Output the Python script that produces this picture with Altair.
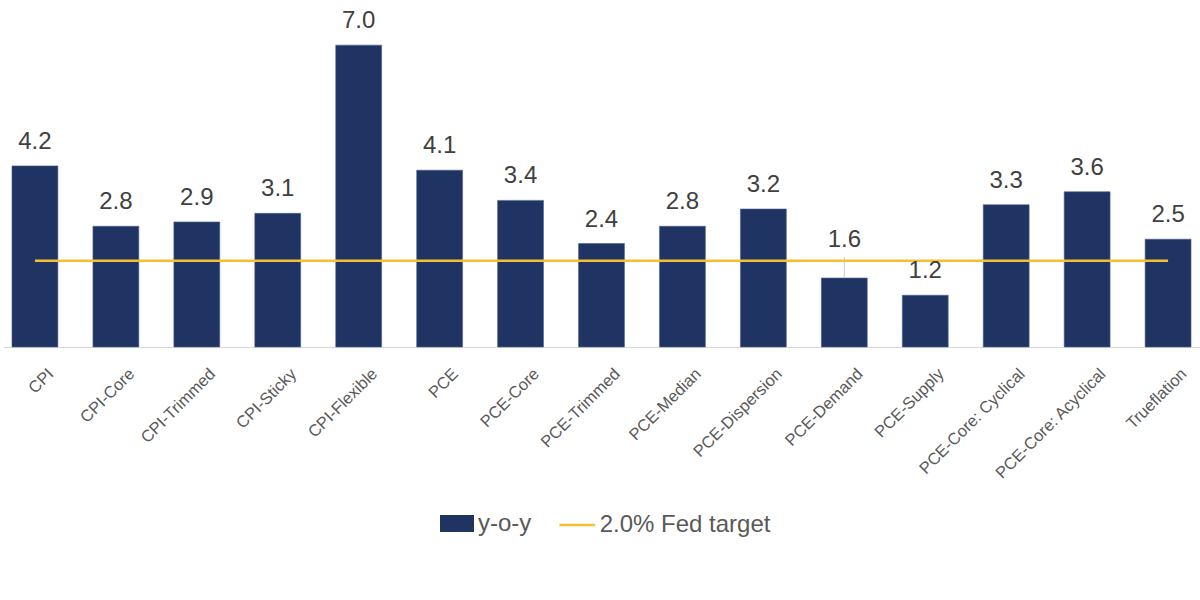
import altair as alt
import pandas as pd

# Year-over-year inflation by measure (%)
categories = [
    "CPI", "CPI-Core", "CPI-Trimmed", "CPI-Sticky", "CPI-Flexible",
    "PCE", "PCE-Core", "PCE-Trimmed", "PCE-Median", "PCE-Dispersion",
    "PCE-Demand", "PCE-Supply", "PCE-Core: Cyclical", "PCE-Core: Acyclical",
    "Trueflation",
]
yoy = [4.2, 2.8, 2.9, 3.1, 7.0, 4.1, 3.4, 2.4, 2.8, 3.2, 1.6, 1.2, 3.3, 3.6, 2.5]
fed_target = 2.0

bar_label = "y-o-y"
target_label = "2.0% Fed target"
# labels that sit above the target line, joined to their bar by a leader
lifted = ["PCE-Demand"]

NAVY = "#1F3462"
GOLD = "#F5BF2F"
FONT = "Liberation Sans"

df = pd.DataFrame({
    "category": categories,
    "value": yoy,
    "target": [fed_target] * len(categories),
    "series": bar_label,
    "target_series": target_label,
})

x_enc = alt.X(
    "category:N",
    sort=categories,
    scale=alt.Scale(paddingInner=0.433, paddingOuter=0.111, range=[3, 1200]),
    axis=alt.Axis(
        title=None, labelAngle=-45, labelAlign="right", labelBaseline="middle",
        labelFont=FONT, labelFontSize=16.5, labelColor="#595959",
        labelPadding=24, labelOffset=16, ticks=False, grid=False,
        domainColor="#D9D9D9", domainWidth=1, labelOverlap=False,
        labelBound=False, labelFlush=False, labelLimit=400,
    ),
)
y_scale = alt.Scale(domain=[0, 8], nice=False, zero=True)
y_enc = alt.Y("value:Q", scale=y_scale, axis=None)

base = alt.Chart(df)

bars = base.mark_bar(stroke="#4E6290", strokeWidth=0.6).encode(
    x=x_enc,
    y=y_enc,
    fill=alt.Fill(
        "series:N",
        scale=alt.Scale(domain=[bar_label], range=[NAVY]),
        legend=alt.Legend(
            title=None, orient="none", legendX=440, legendY=504.5,
            symbolType="M-1,-0.5H1V0.5H-1Z", symbolSize=1156,
            symbolStrokeWidth=0, labelFont=FONT, labelFontSize=24,
            labelColor="#595959", labelOffset=4, labelLimit=400,
        ),
    ),
)

target_line = base.mark_line(strokeWidth=2.5).encode(
    x=alt.X("category:N", sort=categories),
    y=alt.Y("target:Q", scale=y_scale, axis=None),
    stroke=alt.Stroke(
        "target_series:N",
        scale=alt.Scale(domain=[target_label], range=[GOLD]),
        legend=alt.Legend(
            title=None, orient="none", legendX=557.7, legendY=503.5,
            symbolType="stroke", symbolSize=1267, symbolStrokeWidth=2.5,
            labelFont=FONT, labelFontSize=24, labelColor="#595959",
            labelOffset=3, labelLimit=400,
        ),
    ),
)

is_lifted = alt.FieldOneOfPredicate(field="category", oneOf=lifted)

labels = base.transform_filter(~is_lifted).mark_text(
    font=FONT, fontSize=24, color="#404040", baseline="alphabetic", dy=-17,
).encode(
    x=alt.X("category:N", sort=categories),
    y=alt.Y("value:Q", scale=y_scale, axis=None),
    text=alt.Text("value:Q", format=".1f"),
)

lifted_labels = base.transform_filter(is_lifted).mark_text(
    font=FONT, fontSize=24, color="#404040", baseline="alphabetic", dy=-31,
).encode(
    x=alt.X("category:N", sort=categories),
    y=alt.Y("value:Q", scale=y_scale, axis=None),
    text=alt.Text("value:Q", format=".1f"),
)

leaders = base.transform_filter(is_lifted).mark_rule(
    color="#C8C8C8", strokeWidth=1, y2Offset=-21,
).encode(
    x=alt.X("category:N", sort=categories),
    y=alt.Y("value:Q", scale=y_scale, axis=None),
    y2="value:Q",
)

chart = (
    alt.layer(bars, leaders, target_line, labels, lifted_labels)
    .resolve_legend(fill="independent", stroke="independent")
    .properties(
        width=1200,
        height=345,
        autosize=alt.AutoSizeParams(type="none"),
        padding={"left": 0, "top": 2, "right": 0, "bottom": 253},
        background="white",
    )
    .configure_view(stroke=None)
)

chart.save("out.html", embed_options={"renderer": "svg", "actions": False})
